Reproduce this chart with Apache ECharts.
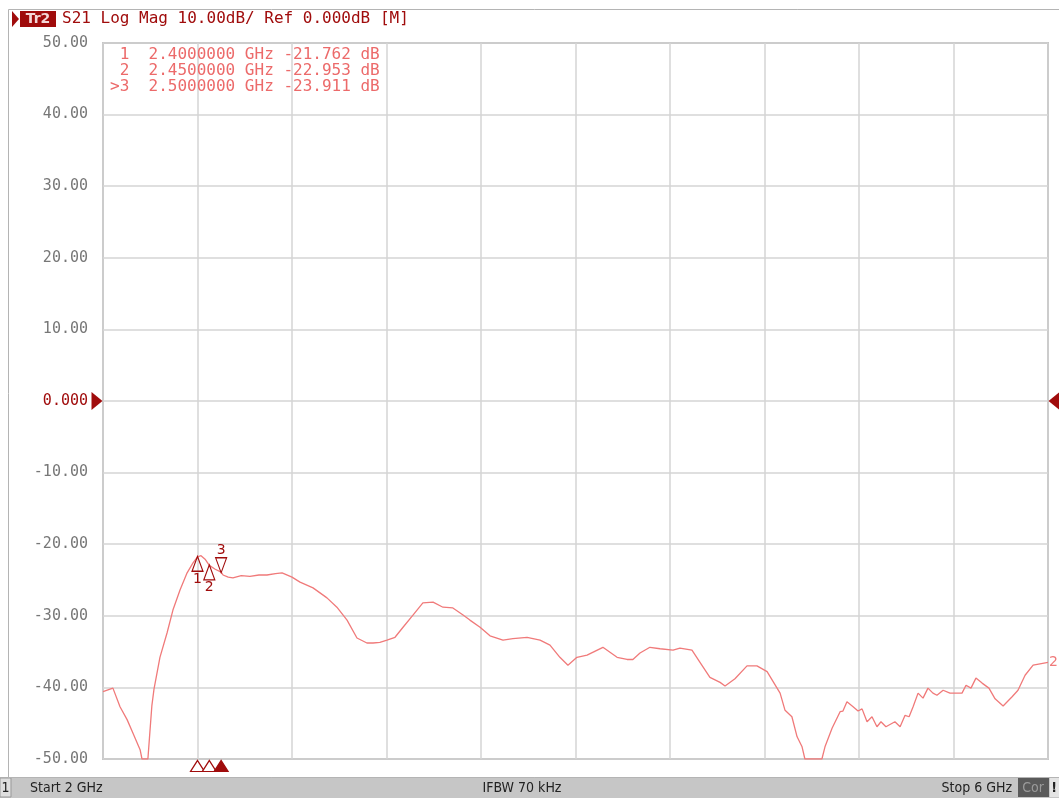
<!DOCTYPE html>
<html><head><meta charset="utf-8">
<script src="https://cdn.jsdelivr.net/npm/echarts@6/dist/echarts.min.js"></script>
<style>html,body{margin:0;padding:0;background:#fff;}#c{width:1059px;height:798px;}</style>
</head><body><div id="c"></div>
<script>
// ---- data ----
const freqGHz = [2.000,2.042,2.072,2.102,2.127,2.157,2.165,2.178,2.190,2.199,2.207,2.216,2.241,2.271,2.296,2.326,2.356,2.381,2.400,2.415,2.432,2.450,2.475,2.500,2.508,2.530,2.550,2.585,2.622,2.660,2.694,2.730,2.758,2.800,2.834,2.889,2.948,2.990,3.033,3.075,3.117,3.143,3.172,3.202,3.236,3.270,3.312,3.354,3.397,3.439,3.481,3.524,3.553,3.596,3.638,3.693,3.735,3.795,3.850,3.892,3.934,3.968,4.006,4.049,4.116,4.176,4.218,4.243,4.273,4.315,4.358,4.413,4.442,4.493,4.527,4.569,4.612,4.633,4.675,4.726,4.768,4.811,4.866,4.887,4.916,4.938,4.959,4.971,5.043,5.056,5.086,5.120,5.132,5.149,5.175,5.196,5.213,5.234,5.255,5.276,5.293,5.314,5.352,5.374,5.395,5.412,5.429,5.450,5.471,5.492,5.513,5.530,5.556,5.585,5.636,5.653,5.674,5.695,5.721,5.750,5.776,5.810,5.848,5.873,5.903,5.937,5.966,6.000];
const s21dB = [-40.6,-40.1,-42.7,-44.5,-46.4,-48.7,-50.0,-50.0,-50.0,-46.0,-42.5,-40.2,-35.8,-32.4,-29.2,-26.4,-24.0,-22.6,-21.762,-21.6,-22.1,-22.953,-23.5,-23.911,-24.3,-24.6,-24.7,-24.4,-24.5,-24.3,-24.3,-24.1,-24.0,-24.6,-25.3,-26.1,-27.5,-28.8,-30.6,-33.1,-33.8,-33.8,-33.7,-33.4,-33.0,-31.6,-29.9,-28.2,-28.1,-28.8,-28.9,-29.9,-30.6,-31.6,-32.8,-33.4,-33.2,-33.0,-33.4,-34.1,-35.8,-36.9,-35.8,-35.5,-34.4,-35.8,-36.1,-36.1,-35.2,-34.4,-34.6,-34.8,-34.5,-34.8,-36.5,-38.6,-39.3,-39.8,-38.8,-37.0,-37.0,-37.8,-40.8,-43.2,-44.1,-46.9,-48.3,-50.0,-50.0,-48.3,-45.7,-43.4,-43.3,-42.0,-42.7,-43.3,-43.0,-44.8,-44.1,-45.5,-44.8,-45.5,-44.8,-45.5,-43.9,-44.1,-42.7,-40.8,-41.5,-40.1,-40.8,-41.1,-40.4,-40.8,-40.8,-39.7,-40.1,-38.7,-39.4,-40.1,-41.6,-42.6,-41.3,-40.4,-38.3,-36.9,-36.7,-36.5];
const markerNames = ['1','2','3'];
const markerFreqGHz = [2.40, 2.45, 2.50];
const markerDB = [-21.762, -22.953, -23.911];
const activeMarker = 2; // index of ">3"
const startGHz = 2, stopGHz = 6, freqStep = 0.4;
const refDB = 0, minDB = -50, maxDB = 50, dbStep = 10;
const headerText = 'S21 Log Mag 10.00dB/ Ref 0.000dB [M]';
const statusTexts = ['Start 2 GHz', 'IFBW 70 kHz', 'Stop 6 GHz'];

// ---- styles ----
const TRACE = '#f07a7a';
const DARK = '#a00c0c';
const MONO = '"DejaVu Sans Mono", monospace';
const NARROW = '"Liberation Sans Narrow", "DejaVu Sans Condensed", sans-serif';

const traceData = freqGHz.map((f, i) => [f, s21dB[i]]);
const upTri = 'path://M5,0 L10,14 L0,14 Z';
const downTri = 'path://M0,0 L10,0 L5,14 Z';

const markerOnTrace = markerFreqGHz.map((f, i) => {
  const up = i !== activeMarker;
  return {
    name: markerNames[i], value: [f, markerDB[i]],
    symbol: up ? upTri : downTri,
    symbolOffset: up ? [0, 7] : [0, -7],
    label: { show: true, position: up ? 'bottom' : 'top', distance: 0, formatter: markerNames[i], color: DARK, fontSize: 14, fontFamily: 'DejaVu Sans' }
  };
});
const markerOnAxis = markerFreqGHz.map((f, i) => ({
  value: [f, minDB],
  itemStyle: i === activeMarker ? { color: DARK, borderColor: DARK } : { color: '#fff', borderColor: DARK }
}));

function fmtMarker(i) {
  const pre = i === activeMarker ? '>' : ' ';
  return pre + markerNames[i] + '  ' + markerFreqGHz[i].toFixed(7) + ' GHz ' + markerDB[i].toFixed(3) + ' dB';
}

const chart = echarts.init(document.getElementById('c'), null, { renderer: 'canvas' });
chart.setOption({
  animation: false,
  backgroundColor: '#fff',
  grid: { left: 103, top: 43, right: 11, bottom: 39, show: true, borderColor: '#9a9a9a', borderWidth: 1.5 },
  xAxis: {
    type: 'value', min: startGHz, max: stopGHz, interval: freqStep,
    axisLabel: { show: false }, axisTick: { show: false },
    axisLine: { show: false },
    splitLine: { show: true, lineStyle: { color: '#d4d4d4', width: 1.5 } }
  },
  yAxis: {
    type: 'value', min: minDB, max: maxDB, interval: dbStep,
    axisTick: { show: false }, axisLine: { show: false },
    splitLine: { show: true, lineStyle: { color: '#d4d4d4', width: 1.5 } },
    axisLabel: {
      margin: 15, fontFamily: MONO, fontSize: 15, color: '#777777',
      formatter: v => v === refDB ? '{z|0.000}' : v.toFixed(2),
      rich: { z: { color: DARK, fontFamily: MONO, fontSize: 15 } }
    }
  },
  series: [
    {
      type: 'line', data: traceData, showSymbol: false, symbol: 'none',
      lineStyle: { color: TRACE, width: 1.3 }, z: 3,
      endLabel: { show: true, formatter: '2', color: TRACE, fontSize: 14, fontFamily: 'DejaVu Sans', distance: 1 }
    },
    {
      type: 'scatter', data: markerOnTrace, symbolSize: [11, 15], z: 5,
      itemStyle: { color: 'rgba(255,255,255,0)', borderColor: DARK, borderWidth: 1.2, opacity: 1 }
    },
    {
      type: 'scatter', data: markerOnAxis, symbol: upTri, symbolSize: [14, 11], symbolOffset: [0, 7], clip: false, z: 5,
      itemStyle: { borderWidth: 1.2, opacity: 1 }
    },
    {
      type: 'scatter', clip: false, z: 6, symbolSize: [11, 18],
      itemStyle: { color: DARK, opacity: 1 },
      data: [
        { value: [startGHz, refDB], symbol: 'path://M0,0 L10,9 L0,18 Z', symbolOffset: [-6, 0] },
        { value: [stopGHz, refDB], symbol: 'path://M10,0 L0,9 L10,18 Z', symbolOffset: [6, 0] }
      ]
    }
  ],
  graphic: [
    { type: 'rect', shape: { x: 8.5, y: 9.5, width: 1060, height: 768 }, style: { fill: 'none', stroke: '#b4b4b4', lineWidth: 1 }, z: 1 },
    // header
    { type: 'polygon', shape: { points: [[12, 11], [19, 19], [12, 27]] }, style: { fill: DARK } },
    { type: 'rect', shape: { x: 20, y: 11, width: 36, height: 16 }, style: { fill: DARK } },
    { type: 'text', x: 38, y: 19, style: { text: 'Tr2', fill: '#f4d8d8', font: 'bold 14px "DejaVu Sans"', align: 'center', verticalAlign: 'middle' } },
    { type: 'text', x: 62, y: 19, style: { text: headerText, fill: DARK, font: '16px ' + MONO, verticalAlign: 'middle' } },
    // marker table
    ...markerNames.map((n, i) => ({ type: 'text', x: 110, y: 55 + i * 16, z: 10, style: { text: fmtMarker(i), fill: '#ec6a6a', font: '16px ' + MONO, verticalAlign: 'middle' } })),
    // status bar
    { type: 'rect', shape: { x: 0, y: 777, width: 1059, height: 21 }, style: { fill: '#c6c6c6' } },
    { type: 'rect', shape: { x: 0, y: 778, width: 11, height: 19 }, style: { fill: '#dedede', stroke: '#999', lineWidth: 1 } },
    { type: 'text', x: 5.5, y: 788, style: { text: '1', fill: '#222', font: '14px ' + NARROW, align: 'center', verticalAlign: 'middle' } },
    { type: 'text', x: 30, y: 788, style: { text: statusTexts[0], fill: '#222', font: '14px ' + NARROW, verticalAlign: 'middle' } },
    { type: 'text', x: 522, y: 788, style: { text: statusTexts[1], fill: '#222', font: '14px ' + NARROW, align: 'center', verticalAlign: 'middle' } },
    { type: 'text', x: 1012, y: 788, style: { text: statusTexts[2], fill: '#222', font: '14px ' + NARROW, align: 'right', verticalAlign: 'middle' } },
    { type: 'rect', shape: { x: 1018, y: 778, width: 31, height: 19 }, style: { fill: '#5a5a5a' } },
    { type: 'text', x: 1033, y: 788, style: { text: 'Cor', fill: '#9a9a9a', font: '14px ' + NARROW, align: 'center', verticalAlign: 'middle' } },
    { type: 'rect', shape: { x: 1050, y: 778, width: 9, height: 19 }, style: { fill: '#e4e4e4' } },
    { type: 'text', x: 1054, y: 788, style: { text: '!', fill: '#222', font: 'bold 14px ' + NARROW, align: 'center', verticalAlign: 'middle' } }
  ]
});
</script></body></html>
